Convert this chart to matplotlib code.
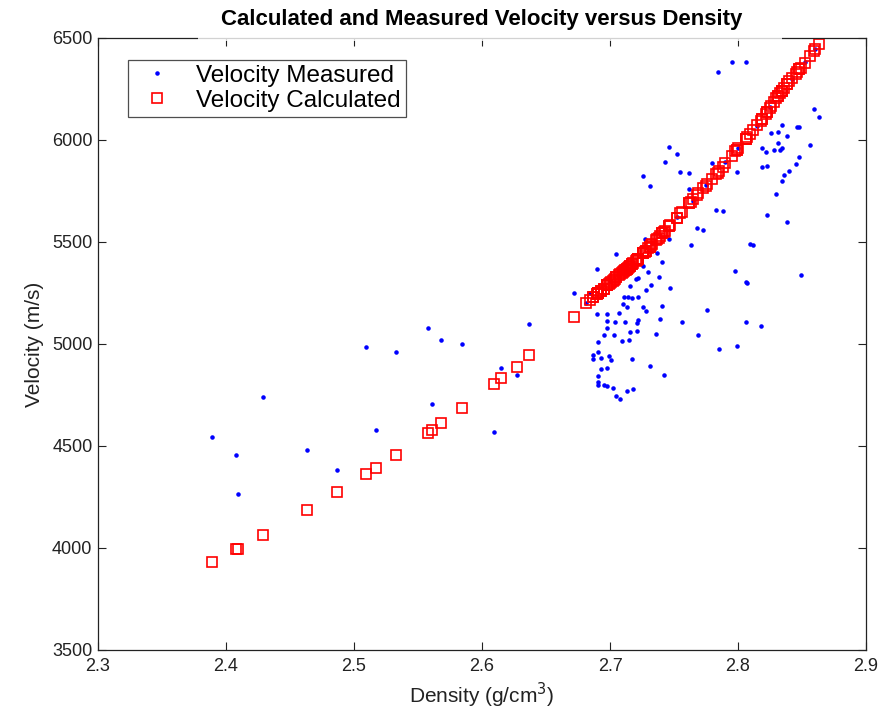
import matplotlib
matplotlib.use("Agg")
import matplotlib.pyplot as plt
from matplotlib.patches import Rectangle

plt.rcParams['font.family'] = ['Liberation Sans', 'DejaVu Sans']

# Measured density (g/cm^3), measured velocity (m/s), calculated velocity (m/s)
density = [
    2.389, 2.408, 2.409, 2.429, 2.463, 2.487, 2.509, 2.517, 2.533, 2.558,
    2.561, 2.568, 2.584, 2.609, 2.615, 2.627, 2.637, 2.672,
    2.746, 2.752, 2.743, 2.726, 2.731, 2.755, 2.762, 2.762, 2.799, 2.783,
    2.788, 2.768, 2.773, 2.763, 2.809, 2.812, 2.746, 2.727, 2.737, 2.705,
    2.690, 2.684, 2.726, 2.730, 2.738, 2.732, 2.716, 2.720, 2.722, 2.747,
    2.728, 2.798, 2.806, 2.807, 2.711, 2.714, 2.717, 2.722, 2.710, 2.713,
    2.726, 2.728, 2.741, 2.690, 2.698, 2.707, 2.712, 2.722, 2.721, 2.739,
    2.698, 2.704, 2.776, 2.756, 2.806, 2.698, 2.703, 2.695, 2.716, 2.721,
    2.736, 2.715, 2.709, 2.691, 2.769, 2.691, 2.687, 2.693, 2.687, 2.699,
    2.701, 2.717, 2.785, 2.799, 2.693, 2.698, 2.731, 2.691, 2.691, 2.691,
    2.695, 2.698, 2.702, 2.713, 2.718, 2.742, 2.705, 2.708, 2.741,
    2.795, 2.806, 2.784, 2.859, 2.863, 2.834, 2.826, 2.831, 2.838, 2.846,
    2.848, 2.831, 2.819, 2.822, 2.828, 2.833, 2.834, 2.856, 2.848, 2.819,
    2.823, 2.845, 2.840, 2.836, 2.834, 2.830, 2.780, 2.823, 2.838, 2.849,
    2.818,
    2.681, 2.700, 2.7125, 2.733, 2.752, 2.765, 2.775, 2.790, 2.800, 2.815,
    2.825, 2.842, 2.852, 2.860,
]
velocity_measured = [
    4545, 4456, 4265, 4740, 4480, 4382, 4985, 4578, 4961, 5078,
    4706, 5020, 5000, 4569, 4882, 4848, 5098, 5250,
    5966, 5931, 5892, 5824, 5775, 5843, 5838, 5760, 5843, 5657,
    5652, 5569, 5559, 5485, 5490, 5485, 5515, 5515, 5446, 5441,
    5368, 5250, 5382, 5353, 5328, 5289, 5284, 5319, 5324, 5275,
    5265, 5358, 5304, 5299, 5230, 5230, 5226, 5230, 5196, 5181,
    5181, 5162, 5186, 5147, 5147, 5152, 5108, 5118, 5103, 5123,
    5113, 5108, 5167, 5108, 5108, 5078, 5044, 5044, 5059, 5064,
    5049, 5020, 5015, 5010, 5044, 4961, 4946, 4931, 4926, 4941,
    4922, 4926, 4975, 4990, 4877, 4882, 4892, 4843, 4814, 4799,
    4799, 4794, 4784, 4770, 4779, 4848, 4745, 4730, 5400,
    6382, 6382, 6333, 6152, 6113, 6074, 6034, 6039, 6020, 6064,
    6064, 5985, 5961, 5941, 5951, 5951, 5961, 5975, 5917, 5868,
    5873, 5882, 5848, 5828, 5799, 5735, 5887, 5632, 5598, 5338,
    5088,
    5200, 5310, 5360, 5495, 5625, 5700, 5780, 5890, 5960, 6070,
    6160, 6300, 6380, 6445,
]
velocity_calculated = [
    3931, 3993, 3996, 4062, 4186, 4275, 4363, 4392, 4456, 4564,
    4578, 4613, 4686, 4804, 4833, 4887, 4946, 5132,
    5577, 5619, 5556, 5444, 5476, 5640, 5689, 5689, 5953, 5832,
    5870, 5731, 5765, 5696, 6028, 6050, 5577, 5451, 5515, 5326,
    5245, 5214, 5444, 5470, 5522, 5483, 5384, 5406, 5419, 5584,
    5457, 5945, 6005, 6013, 5357, 5374, 5390, 5419, 5352, 5368,
    5444, 5457, 5542, 5245, 5288, 5336, 5363, 5419, 5412, 5528,
    5288, 5320, 5784, 5647, 6005, 5288, 5315, 5272, 5384, 5412,
    5509, 5379, 5347, 5250, 5738, 5250, 5229, 5261, 5229, 5294,
    5304, 5390, 5847, 5953, 5261, 5288, 5476, 5250, 5250, 5250,
    5272, 5288, 5310, 5368, 5395, 5549, 5326, 5341, 5542,
    5922, 6005, 5840, 6437, 6471, 6239, 6167, 6214, 6273, 6332,
    6346, 6214, 6101, 6129, 6186, 6230, 6239, 6411, 6346, 6101,
    6139, 6325, 6290, 6256, 6239, 6205, 5810, 6139, 6273, 6353,
    6092,
    5199, 5299, 5365, 5489, 5619, 5710, 5776, 5885, 5960, 6072,
    6158, 6304, 6377, 6445,
]

xticks = [2.3, 2.4, 2.5, 2.6, 2.7, 2.8, 2.9]
yticks = [3500, 4000, 4500, 5000, 5500, 6000, 6500]

W, H = 887, 713
fig = plt.figure(figsize=(W / 100, H / 100), dpi=100)
ax = fig.add_axes([98 / W, (H - 650) / H, 768 / W, 612 / H])

ax.plot(density, velocity_measured, linestyle='none', marker='.', color='#0000ff',
        markersize=4.5, label='Velocity Measured')
ax.plot(density, velocity_calculated, linestyle='none', marker='s', markerfacecolor='none',
        markeredgecolor='#ff0000', markeredgewidth=1.2, markersize=6.8,
        label='Velocity Calculated')

ax.set_xlim(2.3, 2.9)
ax.set_ylim(3500, 6500)
ax.set_xticks(xticks)
ax.set_xticklabels([f"{t:.1f}" for t in xticks])
ax.set_yticks(yticks)
ax.set_yticklabels([str(t) for t in yticks])
ax.tick_params(direction='in', top=True, right=True, length=6, width=0.8,
               labelsize=13, colors='#222222')
ax.tick_params(axis='x', pad=6)
ax.tick_params(axis='y', pad=4)
for s in ax.spines.values():
    s.set_linewidth(0.9)
    s.set_color('#222222')

ax.set_xlabel('Density (g/cm$^3$)', fontsize=15, color='#222222', labelpad=4)
ax.set_ylabel('Velocity (m/s)', fontsize=15, color='#222222', labelpad=6)

leg = ax.legend(loc='upper left', bbox_to_anchor=(30 / 768, 1 - 22 / 612), fontsize=17.5,
                frameon=True, fancybox=False, borderaxespad=0, handlelength=2.0,
                handletextpad=0.6, borderpad=0.2, labelspacing=0.12)
leg.get_frame().set_edgecolor('#222222')
leg.get_frame().set_linewidth(0.9)

# white backdrop of the title that hides part of the top frame line
fig.patches.append(Rectangle((198 / W, 1 - 40.5 / H), (782 - 198) / W, 40.5 / H,
                             transform=fig.transFigure, facecolor='white',
                             edgecolor='none', alpha=0.8, zorder=5))
fig.text(0.5 * (98 + 866) / W, 1 - 19 / H, 'Calculated and Measured Velocity versus Density',
         ha='center', va='center', fontsize=16, fontweight='bold', zorder=6)

fig.savefig('out.png', dpi=100)
